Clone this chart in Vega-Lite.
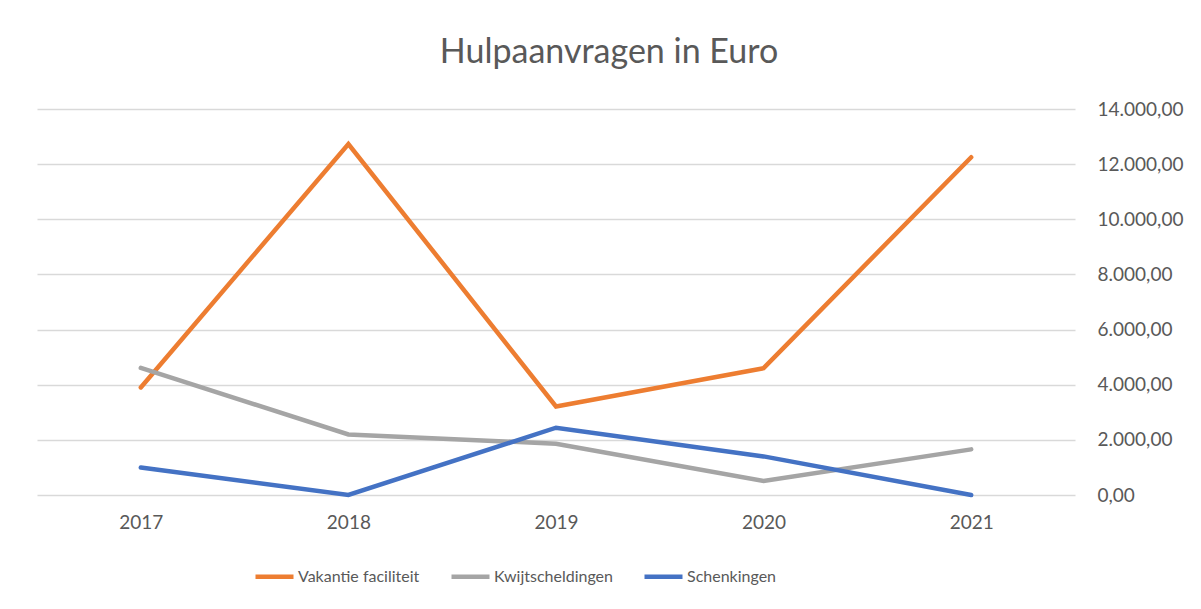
{
  "$schema": "https://vega.github.io/schema/vega-lite/v6.json",
  "autosize": "none",
  "width": 1038,
  "height": 386,
  "padding": {"left": 37, "top": 109, "right": 126, "bottom": 114},
  "background": "white",
  "config": {
    "locale": {"number": {"decimal": ",", "thousands": ".", "grouping": [3], "currency": ["€", ""]}},
    "view": {"stroke": null},
    "font": "Lato"
  },
  "title": {
    "text": "Hulpaanvragen in Euro",
    "fontSize": 34,
    "font": "Lato",
    "fontWeight": "normal",
    "color": "#595959",
    "anchor": "middle",
    "dx": 53,
    "offset": 30
  },
  "data": {
    "values": [
      {"jaar": "2017", "serie": "Vakantie faciliteit", "bedrag": 3900},
      {"jaar": "2018", "serie": "Vakantie faciliteit", "bedrag": 12730},
      {"jaar": "2019", "serie": "Vakantie faciliteit", "bedrag": 3210},
      {"jaar": "2020", "serie": "Vakantie faciliteit", "bedrag": 4600},
      {"jaar": "2021", "serie": "Vakantie faciliteit", "bedrag": 12250},
      {"jaar": "2017", "serie": "Kwijtscheldingen", "bedrag": 4610},
      {"jaar": "2018", "serie": "Kwijtscheldingen", "bedrag": 2195},
      {"jaar": "2019", "serie": "Kwijtscheldingen", "bedrag": 1860},
      {"jaar": "2020", "serie": "Kwijtscheldingen", "bedrag": 505},
      {"jaar": "2021", "serie": "Kwijtscheldingen", "bedrag": 1655},
      {"jaar": "2017", "serie": "Schenkingen", "bedrag": 1000},
      {"jaar": "2018", "serie": "Schenkingen", "bedrag": 0},
      {"jaar": "2019", "serie": "Schenkingen", "bedrag": 2440},
      {"jaar": "2020", "serie": "Schenkingen", "bedrag": 1400},
      {"jaar": "2021", "serie": "Schenkingen", "bedrag": 0}
    ]
  },
  "mark": {"type": "line", "strokeWidth": 4.5, "strokeCap": "round", "strokeJoin": "miter"},
  "encoding": {
    "x": {
      "field": "jaar",
      "type": "ordinal",
      "scale": {"type": "point", "padding": 0.5},
      "axis": {
        "title": null,
        "labelAngle": 0,
        "labelFontSize": 19,
        "labelColor": "#595959",
        "labelPadding": 18,
        "domain": false,
        "ticks": false,
        "grid": false
      }
    },
    "y": {
      "field": "bedrag",
      "type": "quantitative",
      "scale": {"domain": [0, 14000], "nice": false},
      "axis": {
        "orient": "right",
        "title": null,
        "values": [0, 2000, 4000, 6000, 8000, 10000, 12000, 14000],
        "format": ",.2f",
        "labelFontSize": 19,
        "labelColor": "#595959",
        "labelPadding": 22,
        "domain": false,
        "ticks": false,
        "grid": true,
        "gridColor": "#d9d9d9",
        "gridWidth": 1.3
      }
    },
    "color": {
      "field": "serie",
      "type": "nominal",
      "scale": {
        "domain": ["Vakantie faciliteit", "Kwijtscheldingen", "Schenkingen"],
        "range": ["#ED7D31", "#A5A5A5", "#4472C4"]
      },
      "legend": {
        "title": null,
        "orient": "none",
        "direction": "horizontal",
        "legendX": 216,
        "legendY": 446,
        "symbolType": "stroke",
        "symbolSize": 1444,
        "symbolStrokeWidth": 4.5,
        "labelFontSize": 16,
        "labelColor": "#595959",
        "labelOffset": 2,
        "columnPadding": 22
      }
    }
  }
}
